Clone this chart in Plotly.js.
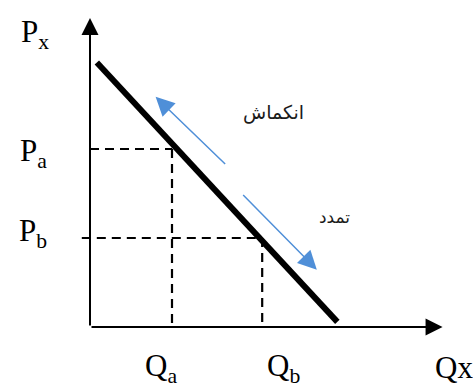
<!DOCTYPE html>
<html>
<head>
<meta charset="utf-8">
<script src="https://cdn.plot.ly/plotly-3.0.1.min.js"></script>
<style>
  html, body { margin: 0; padding: 0; background: #ffffff; }
  #chart { width: 473px; height: 388px; }
</style>
</head>
<body>
<div id="chart"></div>
<script>
// Demand curve endpoints (quantity, price)
const demandQ = [0.25, 9.05];
const demandP = [10.4, 0.2];

// Two points on the curve: a (higher price) and b (lower price)
const pointNames = ['a', 'b'];
const pointQ = [3.0, 6.3];
const pointP = [7.0, 3.5];

// Movement arrows along the curve: contraction (up) and expansion (down)
const contractionQ = [5.0, 2.4];
const contractionP = [6.35, 9.05];
const expansionQ = [5.55, 8.3];
const expansionP = [5.25, 2.25];
const moveLabels = ['انکماش', 'تمدد'];
const moveLabelQ = [6.7, 8.93];
const moveLabelP = [8.42, 4.33];

// Axis extents and titles
const axisQmax = 12.9;
const axisPmax = 12.15;
const axisTitles = ['P<sub>x</sub>', 'Qx'];

const serif = 'Liberation Serif, Times New Roman, serif';
const black = '#000000';
const blue = '#4f8fd8';
const dashStyle = '9px,6px';

const traces = [];

// Dashed guide lines from each point to both axes
pointNames.forEach((n, i) => {
  const qStart = i === 0 ? 0 : -0.3;
  traces.push({
    x: [qStart, pointQ[i]], y: [pointP[i], pointP[i]],
    mode: 'lines', line: {color: black, width: 2.2, dash: dashStyle},
    hoverinfo: 'skip', showlegend: false
  });
  traces.push({
    x: [pointQ[i], pointQ[i]], y: [pointP[i], 0],
    mode: 'lines', line: {color: black, width: 2.2, dash: dashStyle},
    hoverinfo: 'skip', showlegend: false
  });
});

// Demand line
traces.push({
  x: demandQ, y: demandP, mode: 'lines',
  line: {color: black, width: 6},
  hoverinfo: 'skip', showlegend: false
});

function arrow(q, p, color, width, size) {
  return {
    x: q[1], y: p[1], ax: q[0], ay: p[0],
    xref: 'x', yref: 'y', axref: 'x', ayref: 'y',
    text: '', showarrow: true,
    arrowhead: 2, arrowsize: size, arrowwidth: width, arrowcolor: color
  };
}

const annotations = [
  // axes
  arrow([0, axisQmax], [0, 0], black, 2, 1.7),
  arrow([0, 0], [0, axisPmax], black, 2, 1.7),
  // movement arrows
  arrow(contractionQ, contractionP, blue, 1.5, 2.5),
  arrow(expansionQ, expansionP, blue, 1.5, 2.5),
  // axis titles
  {x: 0, y: axisPmax, xref: 'x', yref: 'y', xshift: -55, yshift: -16,
   text: axisTitles[0], showarrow: false, font: {family: serif, size: 31, color: black}},
  {x: axisQmax, y: 0, xref: 'x', yref: 'y', xanchor: 'left', xshift: -10, yshift: -40,
   text: axisTitles[1], showarrow: false, font: {family: serif, size: 31, color: black}}
];

// Point labels on each axis
const qShift = [-11, 21];
const pShift = [-4, 5];
pointNames.forEach((n, i) => {
  annotations.push({
    x: 0, y: pointP[i], xref: 'x', yref: 'y', xshift: -57, yshift: pShift[i],
    text: 'P<sub>' + n + '</sub>', showarrow: false,
    font: {family: serif, size: 31, color: black}
  });
  annotations.push({
    x: pointQ[i], y: 0, xref: 'x', yref: 'y', xshift: qShift[i], yshift: -41,
    text: 'Q<sub>' + n + '</sub>', showarrow: false,
    font: {family: serif, size: 31, color: black}
  });
});

// Movement labels
moveLabels.forEach((t, i) => {
  annotations.push({
    x: moveLabelQ[i], y: moveLabelP[i], xref: 'x', yref: 'y',
    text: t, showarrow: false,
    font: {family: 'DejaVu Sans, sans-serif', size: i === 0 ? 19 : 17, color: '#1a1a1a'}
  });
});

const layout = {
  width: 473, height: 388,
  margin: {l: 0, r: 0, t: 0, b: 0},
  paper_bgcolor: '#ffffff', plot_bgcolor: '#ffffff',
  xaxis: {range: [-3.293, 14.013], visible: false, fixedrange: true},
  yaxis: {range: [-2.399, 12.859], visible: false, fixedrange: true},
  annotations: annotations,
  showlegend: false
};

Plotly.newPlot('chart', traces, layout, {staticPlot: true, displayModeBar: false});
</script>
</body>
</html>
